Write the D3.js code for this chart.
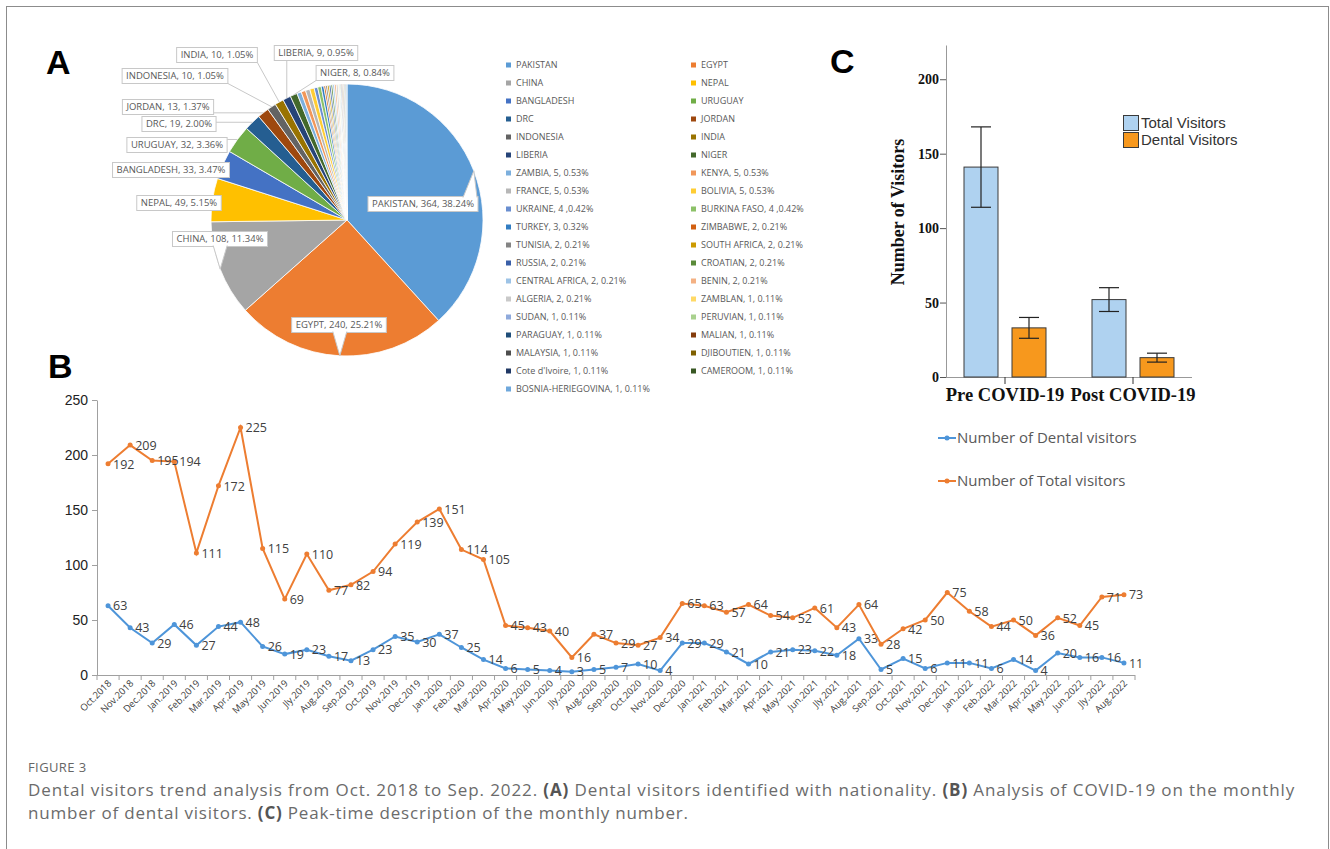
<!DOCTYPE html>
<html>
<head>
<meta charset="utf-8">
<script src="https://cdn.jsdelivr.net/npm/d3@7"></script>
<style>
body { margin: 0; background: #fff; }
svg { display: block; }
</style>
</head>
<body>
<div id="canvas"></div>
<script>
// ---- panel A data ----
const countries = ['PAKISTAN', 'EGYPT', 'CHINA', 'NEPAL', 'BANGLADESH', 'URUGUAY', 'DRC', 'JORDAN',
    'INDONESIA', 'INDIA', 'LIBERIA', 'NIGER', 'ZAMBIA', 'KENYA', 'FRANCE', 'BOLIVIA', 'UKRAINE',
    'BURKINA FASO', 'TURKEY', 'ZIMBABWE', 'TUNISIA', 'SOUTH AFRICA', 'RUSSIA', 'CROATIAN',
    'CENTRAL AFRICA', 'BENIN', 'ALGERIA', 'ZAMBLAN', 'SUDAN', 'PERUVIAN', 'PARAGUAY', 'MALIAN',
    'MALAYSIA', 'DJIBOUTIEN', "Cote d'Ivoire", 'CAMEROOM', 'BOSNIA-HERIEGOVINA'];
const visits = [364, 240, 108, 49, 33, 32, 19, 13, 10, 10, 9, 8, 5, 5, 5, 5, 4, 4, 3, 2, 2, 2, 2, 2,
    2, 2, 2, 1, 1, 1, 1, 1, 1, 1, 1, 1, 1];
const legendLabels = ['PAKISTAN', 'EGYPT', 'CHINA', 'NEPAL', 'BANGLADESH', 'URUGUAY', 'DRC', 'JORDAN',
    'INDONESIA', 'INDIA', 'LIBERIA', 'NIGER', 'ZAMBIA, 5, 0.53%', 'KENYA, 5, 0.53%', 'FRANCE, 5, 0.53%',
    'BOLIVIA, 5, 0.53%', 'UKRAINE, 4 ,0.42%', 'BURKINA FASO, 4 ,0.42%', 'TURKEY, 3, 0.32%',
    'ZIMBABWE, 2, 0.21%', 'TUNISIA, 2, 0.21%', 'SOUTH AFRICA, 2, 0.21%', 'RUSSIA, 2, 0.21%',
    'CROATIAN, 2, 0.21%', 'CENTRAL AFRICA, 2, 0.21%', 'BENIN, 2, 0.21%', 'ALGERIA, 2, 0.21%',
    'ZAMBLAN, 1, 0.11%', 'SUDAN, 1, 0.11%', 'PERUVIAN, 1, 0.11%', 'PARAGUAY, 1, 0.11%',
    'MALIAN, 1, 0.11%', 'MALAYSIA, 1, 0.11%', 'DJIBOUTIEN, 1, 0.11%', "Cote d'Ivoire, 1, 0.11%",
    'CAMEROOM, 1, 0.11%', 'BOSNIA-HERIEGOVINA, 1, 0.11%'];
const pieColors = ['#5b9bd5', '#ed7d31', '#a5a5a5', '#ffc000', '#4472c4', '#70ad47',
    '#255e91', '#9e480e', '#636363', '#997300', '#264478', '#43682b',
    '#7cafdd', '#f1975a', '#b7b7b7', '#ffcd33', '#698ed0', '#8cc168',
    '#327dc2', '#d26012', '#848484', '#cc9a00', '#3a5fa8', '#5a8a39',
    '#9dc3e6', '#f4b183', '#c9c9c9', '#ffd966', '#8faadc', '#a9d18e',
    '#1f4e79', '#843c0c', '#4d4d4d', '#7f6000', '#203864', '#385723', '#6fa8dc'];

// ---- panel B data ----
const months = ['Oct.2018', 'Nov.2018', 'Dec.2018', 'Jan.2019', 'Feb.2019', 'Mar.2019', 'Apr.2019',
    'May.2019', 'Jun.2019', 'Jly.2019', 'Aug.2019', 'Sep.2019', 'Oct.2019', 'Nov.2019', 'Dec.2019',
    'Jan.2020', 'Feb.2020', 'Mar.2020', 'Apr.2020', 'May.2020', 'Jun.2020', 'Jly.2020', 'Aug.2020',
    'Sep.2020', 'Oct.2020', 'Nov.2020', 'Dec.2020', 'Jan.2021', 'Feb.2021', 'Mar.2021', 'Apr.2021',
    'May.2021', 'Jun.2021', 'Jly.2021', 'Aug.2021', 'Sep.2021', 'Oct.2021', 'Nov.2021', 'Dec.2021',
    'Jan.2022', 'Feb.2022', 'Mar.2022', 'Apr.2022', 'May.2022', 'Jun.2022', 'Jly.2022', 'Aug.2022'];
const dentalVisitors = [63, 43, 29, 46, 27, 44, 48, 26, 19, 23, 17, 13, 23, 35, 30, 37, 25, 14, 6, 5, 4,
    3, 5, 7, 10, 4, 29, 29, 21, 10, 21, 23, 22, 18, 33, 5, 15, 6, 11, 11, 6, 14, 4, 20, 16, 16, 11];
const totalVisitors = [192, 209, 195, 194, 111, 172, 225, 115, 69, 110, 77, 82, 94, 119, 139, 151, 114,
    105, 45, 43, 40, 16, 37, 29, 27, 34, 65, 63, 57, 64, 54, 52, 61, 43, 64, 28, 42, 50, 75, 58, 44, 50,
    36, 52, 45, 71, 73];
const lineTicks = [0, 50, 100, 150, 200, 250];

// ---- panel C data ----
const periods = ['Pre COVID-19', 'Post COVID-19'];
const groups = ['Total Visitors', 'Dental Visitors'];
const meanTotal = [141, 52];
const meanDental = [33, 13];
const ciTotal = [[114, 168], [44, 60]];
const ciDental = [[26, 40], [10, 16]];
const barTicks = [0, 50, 100, 150, 200];

const W = 1330, H = 849,
    excelFont = "'Open Sans', 'Noto Sans', sans-serif",
    labelGrey = '#595959';

const svg = d3.select('#canvas').append('svg')
    .attr('width', W)
    .attr('height', H);

svg.append('rect')
    .attr('width', W).attr('height', H)
    .style('fill', '#fff');

svg.append('rect')
    .attr('x', 6.5).attr('y', 6.5)
    .attr('width', 1322).attr('height', 900)
    .style('fill', 'none')
    .style('stroke', '#8c8c8c');

function panelLetter(x, y, t) {
    svg.append('text')
        .attr('x', x).attr('y', y)
        .attr('font-family', "'Liberation Sans', Arial, sans-serif")
        .attr('font-weight', 700)
        .attr('font-size', '34px')
        .attr('fill', '#000')
        .text(t);
}
panelLetter(46, 74, 'A');
panelLetter(48, 378, 'B');
panelLetter(830, 73, 'C');

// ================= A: pie =================
const pcx = 347, pcy = 220, R = 136;
const total = d3.sum(visits);
const fmtPct = d3.format('.2f');
const arcs = d3.pie().sort(null).value(d => d)(visits);
const arc = d3.arc().innerRadius(0).outerRadius(R);
const edge = d3.arc().innerRadius(R).outerRadius(R);

const pieG = svg.append('g').attr('transform', `translate(${pcx},${pcy})`);
pieG.selectAll('path')
    .data(arcs)
    .join('path')
    .attr('d', arc)
    .style('fill', (d, i) => pieColors[i])
    .style('stroke', '#fff')
    .style('stroke-width', 0.8);

// label box centres (layout only) for the twelve labelled slices
const pieLabelPos = [[423, 204], [339, 325], [220, 239], [179, 203], [171, 170], [177, 145],
    [179, 124], [168, 107], [175, 76], [217, 55], [316, 53], [355, 73]];
const calloutSlices = [0, 1, 2];

const labG = svg.append('g');
pieLabelPos.forEach((p, i) => {
    const d = arcs[i];
    const c = edge.centroid(d);
    const tx = pcx + c[0], ty = pcy + c[1];
    const txt = `${countries[i]}, ${visits[i]}, ${fmtPct(visits[i] / total * 100)}%`;
    const g = labG.append('g');
    const t = g.append('text')
        .attr('x', p[0]).attr('y', p[1])
        .attr('dy', '0.35em')
        .attr('text-anchor', 'middle')
        .attr('font-family', excelFont)
        .attr('font-size', '9.5px')
        .attr('fill', labelGrey)
        .text(txt);
    const bw = t.node().getComputedTextLength() + 8, bh = 15;
    const x0 = p[0] - bw / 2, y0 = p[1] - bh / 2, x1 = x0 + bw, y1 = y0 + bh;
    // nearest point of box to target
    const ax = Math.max(x0, Math.min(x1, tx)), ay = Math.max(y0, Math.min(y1, ty));
    if (calloutSlices.includes(i)) {
        g.insert('rect', 'text')
            .attr('x', x0).attr('y', y0).attr('width', bw).attr('height', bh)
            .style('fill', '#fff').style('stroke', '#c8c8c8');
        let b1, b2;
        if (ay === y0 || ay === y1) {
            const bx = Math.max(x0 + 8, Math.min(x1 - 8, ax));
            const by = ay === y0 ? y0 + 1 : y1 - 1;
            b1 = [bx - 7, by]; b2 = [bx + 7, by];
        } else {
            const bx = ax === x0 ? x0 + 1 : x1 - 1;
            b1 = [bx, ay - 5]; b2 = [bx, ay + 5];
        }
        g.insert('path', 'text')
            .attr('d', `M${b1[0]},${b1[1]}L${tx},${ty}L${b2[0]},${b2[1]}`)
            .style('fill', '#fff').style('stroke', '#c8c8c8');
    } else {
        g.insert('line', 'text')
            .attr('x1', ax).attr('y1', ay).attr('x2', tx).attr('y2', ty)
            .style('stroke', '#c8c8c8');
        g.insert('rect', 'text')
            .attr('x', x0).attr('y', y0).attr('width', bw).attr('height', bh)
            .style('fill', '#fff').style('stroke', '#c8c8c8');
    }
});

// legend
const legG = svg.append('g');
legendLabels.forEach((l, i) => {
    const col = i % 2, row = Math.floor(i / 2);
    const lx = 506 + col * 185, ly = 65 + row * 18;
    legG.append('rect')
        .attr('x', lx).attr('y', ly - 2.5).attr('width', 5).attr('height', 5)
        .style('fill', pieColors[i]);
    legG.append('text')
        .attr('x', lx + 10).attr('y', ly)
        .attr('dy', '0.35em')
        .attr('font-family', excelFont)
        .attr('font-size', '9px')
        .attr('fill', labelGrey)
        .text(l);
});

// ================= B: line chart =================
const x = d3.scaleBand().domain(months).range([97, 1135]);
const y = d3.scaleLinear().domain([0, 250]).range([675, 400]);
const xc = m => x(m) + x.bandwidth() / 2;

const yAx = svg.append('g')
    .attr('transform', 'translate(97,0)')
    .call(d3.axisLeft(y).tickValues(lineTicks).tickSize(5).tickSizeOuter(0).tickPadding(4));
yAx.select('.domain').style('stroke', '#a0a0a0');
yAx.selectAll('.tick line').style('stroke', '#a0a0a0');
yAx.selectAll('.tick text')
    .attr('font-family', "'Liberation Sans', Arial, sans-serif")
    .attr('font-size', '14px')
    .attr('fill', '#222');

const xAx = svg.append('g');
xAx.append('line')
    .attr('x1', 97).attr('x2', 1135).attr('y1', 675.5).attr('y2', 675.5)
    .style('stroke', '#a0a0a0');
xAx.selectAll('line.tk')
    .data(months.concat(['end']))
    .join('line')
    .attr('class', 'tk')
    .attr('x1', d => d === 'end' ? x.range()[1] : x(d))
    .attr('x2', d => d === 'end' ? x.range()[1] : x(d))
    .attr('y1', 675).attr('y2', 680)
    .style('stroke', '#a0a0a0');
xAx.selectAll('text')
    .data(months)
    .join('text')
    .attr('text-anchor', 'end')
    .attr('transform', d => `translate(${xc(d) + 4},${684}) rotate(-45)`)
    .attr('font-family', excelFont)
    .attr('font-size', '9.5px')
    .attr('fill', '#404040')
    .text(d => d);

const series = [
    { name: 'Number of Dental visitors', values: dentalVisitors, color: '#4e95d9' },
    { name: 'Number of Total visitors', values: totalVisitors, color: '#ed7d31' }
];
const line = d3.line().x((d, i) => xc(months[i])).y(d => y(d));

series.forEach(s => {
    const g = svg.append('g');
    g.append('path')
        .datum(s.values)
        .attr('d', line)
        .style('fill', 'none')
        .style('stroke', s.color)
        .style('stroke-width', 2);
    g.selectAll('circle')
        .data(s.values)
        .join('circle')
        .attr('cx', (d, i) => xc(months[i]))
        .attr('cy', d => y(d))
        .attr('r', 2.5)
        .style('fill', s.color);
    g.selectAll('text')
        .data(s.values)
        .join('text')
        .attr('x', (d, i) => xc(months[i]) + 5)
        .attr('y', d => y(d))
        .attr('dy', '0.38em')
        .attr('font-family', excelFont)
        .attr('font-size', '12.5px')
        .attr('fill', '#404040')
        .text(d => d);
});

series.forEach((s, i) => {
    const ly = 438 + i * 43;
    svg.append('line')
        .attr('x1', 938).attr('x2', 956).attr('y1', ly).attr('y2', ly)
        .style('stroke', s.color).style('stroke-width', 2);
    svg.append('circle')
        .attr('cx', 947).attr('cy', ly).attr('r', 2.5)
        .style('fill', s.color);
    svg.append('text')
        .attr('x', 957).attr('y', ly)
        .attr('dy', '0.35em')
        .attr('font-family', excelFont)
        .attr('font-size', '15px')
        .attr('fill', labelGrey)
        .text(s.name);
});

// ================= C: bar chart =================
const serif = "'Liberation Serif', 'Times New Roman', serif";
const yb = d3.scaleLinear().domain([0, 223]).range([377, 45]);
const xg = d3.scaleBand().domain(periods).range([941, 1197]);
const xs = d3.scaleBand().domain(groups).range([23, 105]).paddingInner(0.2917);
const barColors = ['#afd2f0', '#f7981d'];

const ybAx = svg.append('g')
    .attr('transform', 'translate(946,0)')
    .call(d3.axisLeft(yb).tickValues(barTicks).tickSize(6).tickSizeOuter(0).tickPadding(1));
ybAx.select('.domain').style('stroke', '#999');
ybAx.selectAll('.tick line').style('stroke', '#555');
ybAx.selectAll('.tick text')
    .attr('font-family', serif)
    .attr('font-weight', 700)
    .attr('font-size', '14px')
    .attr('fill', '#111');

svg.append('line')
    .attr('x1', 946).attr('x2', 1192).attr('y1', 377.5).attr('y2', 377.5)
    .style('stroke', '#999');
periods.forEach(p => {
    const cx = xg(p) + xg.bandwidth() / 2;
    svg.append('line')
        .attr('x1', cx).attr('x2', cx).attr('y1', 377).attr('y2', 384)
        .style('stroke', '#333');
    svg.append('text')
        .attr('x', cx).attr('y', 401)
        .attr('text-anchor', 'middle')
        .attr('font-family', serif)
        .attr('font-weight', 700)
        .attr('font-size', '18.5px')
        .attr('fill', '#111')
        .text(p);
});

const barData = [];
periods.forEach((p, i) => {
    barData.push({ p, g: groups[0], v: meanTotal[i], ci: ciTotal[i], c: barColors[0] });
    barData.push({ p, g: groups[1], v: meanDental[i], ci: ciDental[i], c: barColors[1] });
});

const bars = svg.append('g');
bars.selectAll('rect')
    .data(barData)
    .join('rect')
    .attr('x', d => xg(d.p) + xs(d.g))
    .attr('y', d => yb(d.v))
    .attr('width', xs.bandwidth())
    .attr('height', d => yb(0) - yb(d.v))
    .style('fill', d => d.c)
    .style('stroke', '#3a3a3a')
    .style('stroke-width', 1);

const err = svg.append('g').style('stroke', '#222').style('stroke-width', 1.2);
barData.forEach(d => {
    const cx = xg(d.p) + xs(d.g) + xs.bandwidth() / 2;
    err.append('line').attr('x1', cx).attr('x2', cx).attr('y1', yb(d.ci[0])).attr('y2', yb(d.ci[1]));
    d.ci.forEach(v => {
        err.append('line').attr('x1', cx - 10).attr('x2', cx + 10).attr('y1', yb(v)).attr('y2', yb(v));
    });
});

groups.forEach((gname, i) => {
    const ly = 115 + i * 17;
    svg.append('rect')
        .attr('x', 1123.5).attr('y', ly + 0.5).attr('width', 15).attr('height', 15)
        .style('fill', barColors[i])
        .style('stroke', '#3a3a3a');
    svg.append('text')
        .attr('x', 1141).attr('y', ly + 8)
        .attr('dy', '0.35em')
        .attr('font-family', "'Liberation Sans', Arial, sans-serif")
        .attr('font-size', '15px')
        .attr('fill', '#333')
        .text(gname);
});

svg.append('text')
    .attr('transform', 'translate(904,212) rotate(-90)')
    .attr('text-anchor', 'middle')
    .attr('font-family', serif)
    .attr('font-weight', 700)
    .attr('font-size', '18px')
    .attr('fill', '#111')
    .text('Number of Visitors');

// ================= caption =================
const capFont = "'Open Sans', 'Noto Sans', sans-serif";
svg.append('text')
    .attr('x', 28).attr('y', 772)
    .attr('font-family', capFont)
    .attr('font-size', '13px')
    .attr('letter-spacing', '0.4px')
    .attr('fill', '#666')
    .text('FIGURE 3');

function captionLine(y, parts, len) {
    const t = svg.append('text')
        .attr('x', 28).attr('y', y)
        .attr('font-family', capFont)
        .attr('font-size', '17px')
        .attr('letter-spacing', '0.8px')
        .attr('fill', '#6b6b6b');
    if (len) t.attr('textLength', len).attr('lengthAdjust', 'spacing');
    parts.forEach(p => {
        t.append('tspan')
            .attr('font-weight', p.b ? 700 : 400)
            .attr('fill', p.b ? '#555' : '#6b6b6b')
            .text(p.t);
    });
}
captionLine(796, [
    { t: 'Dental visitors trend analysis from Oct. 2018 to Sep. 2022. ' },
    { t: '(A)', b: true },
    { t: ' Dental visitors identified with nationality. ' },
    { t: '(B)', b: true },
    { t: ' Analysis of COVID-19 on the monthly' }
], 1267);
captionLine(819, [
    { t: 'number of dental visitors. ' },
    { t: '(C)', b: true },
    { t: ' Peak-time description of the monthly number.' }
]);
</script>
</body>
</html>
